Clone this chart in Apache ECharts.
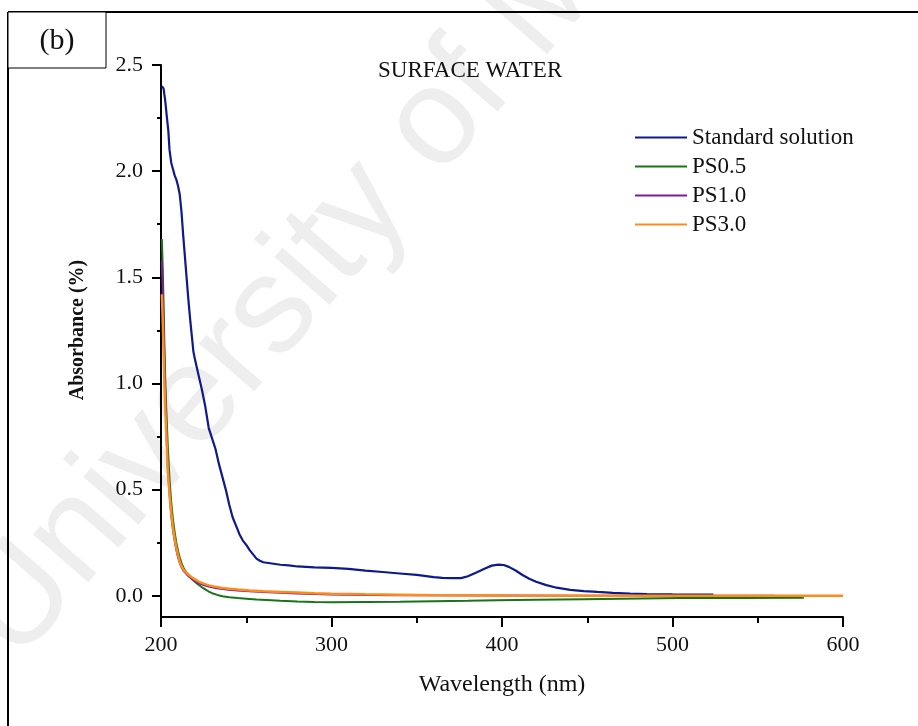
<!DOCTYPE html>
<html>
<head>
<meta charset="utf-8">
<script src="https://cdn.jsdelivr.net/npm/echarts@6.0.0/dist/echarts.min.js"></script>
<style>
  html, body { margin: 0; padding: 0; background: #fff; }
  #chart { width: 918px; height: 726px; }
</style>
</head>
<body>
<div id="chart"></div>
<script>
// UV-Vis absorbance spectra, surface water samples
const seriesNames = ['Standard solution', 'PS0.5', 'PS1.0', 'PS3.0'];
const seriesColors = ['#0c1a8c', '#187418', '#7d1b9c', '#ff8c1a'];

const stdWavelength = [200.5, 201.5, 202.5, 203.5, 204.3, 205, 206, 207, 208, 209, 210, 211, 212, 213, 214, 215, 216, 217, 218, 219, 220, 222, 224, 226, 228, 230, 232, 234, 236, 238, 240, 242, 244, 246, 248, 250, 252, 254, 256, 258, 260, 265, 270, 275, 280, 290, 300, 310, 320, 330, 340, 350, 360, 365, 370, 376, 380, 385, 390, 394, 398, 401, 404, 408, 412, 416, 420, 426, 432, 440, 448, 456, 465, 475, 485, 500, 524];
const stdAbsorbance = [2.40, 2.39, 2.33, 2.25, 2.19, 2.10, 2.04, 2.01, 1.98, 1.96, 1.93, 1.89, 1.81, 1.70, 1.60, 1.50, 1.40, 1.31, 1.23, 1.15, 1.11, 1.04, 0.97, 0.89, 0.79, 0.74, 0.69, 0.62, 0.56, 0.50, 0.43, 0.37, 0.33, 0.29, 0.26, 0.24, 0.215, 0.195, 0.175, 0.165, 0.158, 0.152, 0.146, 0.143, 0.138, 0.134, 0.131, 0.127, 0.118, 0.112, 0.105, 0.098, 0.088, 0.084, 0.083, 0.083, 0.092, 0.110, 0.128, 0.142, 0.147, 0.145, 0.136, 0.119, 0.098, 0.080, 0.066, 0.050, 0.038, 0.028, 0.022, 0.018, 0.014, 0.010, 0.008, 0.007, 0.006];

const ps05Wavelength = [200.5, 201, 201.5, 202, 202.5, 203, 203.5, 204, 205, 206, 207, 208, 209, 210, 211, 212, 213, 214, 216, 218, 220, 222, 224, 226, 228, 230, 233, 236, 240, 245, 250, 256, 262, 270, 280, 290, 300, 320, 340, 360, 380, 397, 420, 448, 470, 505, 540, 577];
const ps05Absorbance = [1.68, 1.55, 1.38, 1.18, 1.02, 0.90, 0.80, 0.70, 0.55, 0.44, 0.36, 0.30, 0.25, 0.21, 0.18, 0.155, 0.135, 0.12, 0.10, 0.08, 0.065, 0.052, 0.04, 0.03, 0.02, 0.012, 0.004, -0.002, -0.007, -0.011, -0.014, -0.018, -0.020, -0.024, -0.027, -0.029, -0.030, -0.029, -0.028, -0.026, -0.024, -0.021, -0.019, -0.016, -0.014, -0.011, -0.010, -0.009];

const ps10Wavelength = [200.5, 201, 201.5, 202, 202.5, 203, 203.5, 204, 205, 206, 207, 208, 209, 210, 211, 212, 213, 214, 216, 218, 220, 222, 225, 228, 232, 236, 240, 245, 252, 260, 270, 280, 290, 300, 320, 340, 360, 400, 450, 500, 560];
const ps10Absorbance = [1.58, 1.45, 1.28, 1.10, 0.95, 0.82, 0.70, 0.60, 0.48, 0.38, 0.31, 0.26, 0.215, 0.18, 0.155, 0.135, 0.12, 0.11, 0.093, 0.08, 0.07, 0.06, 0.05, 0.043, 0.037, 0.032, 0.028, 0.025, 0.021, 0.018, 0.014, 0.011, 0.008, 0.006, 0.004, 0.003, 0.002, 0.001, 0.0, 0.0, 0.0];

const ps30Wavelength = [200.5, 201, 201.5, 202, 202.5, 203, 203.5, 204, 205, 206, 207, 208, 209, 210, 211, 212, 213, 214, 216, 218, 220, 222, 225, 228, 232, 236, 240, 245, 252, 260, 270, 280, 290, 300, 320, 340, 360, 400, 450, 600];
const ps30Absorbance = [1.42, 1.30, 1.15, 1.00, 0.88, 0.78, 0.68, 0.59, 0.48, 0.39, 0.32, 0.27, 0.225, 0.19, 0.16, 0.14, 0.125, 0.115, 0.10, 0.087, 0.077, 0.067, 0.057, 0.049, 0.042, 0.037, 0.033, 0.029, 0.025, 0.021, 0.018, 0.015, 0.012, 0.010, 0.007, 0.005, 0.003, 0.001, 0.0, 0.0];

const xTicks = [200, 300, 400, 500, 600];
const yMajorTicks = [0, 0.5, 1.0, 1.5, 2.0, 2.5];
const yMinorTicks = [0.25, 0.75, 1.25, 1.75, 2.25];

const serif = '"Liberation Serif", "Times New Roman", serif';

function pairs(xs, ys) { return xs.map((x, i) => [x, ys[i]]); }
const spectra = [
  pairs(stdWavelength, stdAbsorbance),
  pairs(ps05Wavelength, ps05Absorbance),
  pairs(ps10Wavelength, ps10Absorbance),
  pairs(ps30Wavelength, ps30Absorbance)
];
const lineWidths = [2.2, 2, 2, 2.5];

const chart = echarts.init(document.getElementById('chart'), null, { renderer: 'canvas' });

const option = {
  backgroundColor: '#ffffff',
  animation: false,
  title: {
    text: 'SURFACE WATER',
    left: 373,
    top: 54,
    textStyle: { fontFamily: serif, fontSize: 23, fontWeight: 'normal', color: '#111' }
  },
  legend: {
    orient: 'vertical',
    left: 635,
    top: 126,
    padding: 0,
    itemWidth: 52,
    itemHeight: 2,
    itemGap: 6,
    icon: 'rect',
    data: seriesNames,
    textStyle: { fontFamily: serif, fontSize: 23, color: '#111', lineHeight: 23 }
  },
  grid: { left: 161, right: 75, top: 65, bottom: 109, containLabel: false },
  xAxis: {
    type: 'value',
    min: 200,
    max: 600,
    interval: 100,
    name: 'Wavelength (nm)',
    nameLocation: 'middle',
    nameGap: 56,
    nameTextStyle: { fontFamily: serif, fontSize: 24, color: '#111' },
    axisLine: { show: true, onZero: false, lineStyle: { color: '#000', width: 2 } },
    axisTick: { show: true, inside: false, length: 10, lineStyle: { color: '#000', width: 2 } },
    minorTick: { show: true, splitNumber: 2, length: 6, lineStyle: { color: '#000', width: 2 } },
    axisLabel: { margin: 17, fontFamily: serif, fontSize: 22, color: '#111', customValues: xTicks },
    splitLine: { show: false }
  },
  yAxis: [
    {
      type: 'value',
      min: -0.1,
      max: 2.5,
      name: 'Absorbance (%)',
      nameLocation: 'middle',
      nameGap: 73,
      nameTextStyle: { fontFamily: serif, fontSize: 20, fontWeight: 'bold', color: '#111', padding: [0, 0, 0, 22] },
      axisLine: { show: true, onZero: false, lineStyle: { color: '#000', width: 2 } },
      axisTick: { show: true, length: 9, customValues: yMajorTicks, lineStyle: { color: '#000', width: 2 } },
      axisLabel: {
        margin: 18,
        fontFamily: serif,
        fontSize: 22,
        color: '#111',
        customValues: yMajorTicks,
        formatter: v => v.toFixed(1)
      },
      splitLine: { show: false }
    },
    {
      type: 'value',
      min: -0.1,
      max: 2.5,
      position: 'left',
      axisLine: { show: false },
      axisTick: { show: true, length: 4, customValues: yMinorTicks, lineStyle: { color: '#000', width: 2 } },
      axisLabel: { show: false },
      splitLine: { show: false }
    }
  ],
  series: seriesNames.map((name, i) => ({
    name: name,
    type: 'line',
    yAxisIndex: 0,
    data: spectra[i],
    showSymbol: false,
    symbol: 'none',
    color: seriesColors[i],
    lineStyle: { color: seriesColors[i], width: lineWidths[i] },
    clip: true,
    z: 3 + i
  })),
  graphic: [
    // faint diagonal watermark behind the plot
    {
      type: 'text',
      x: 40,
      y: 685,
      rotation: 49 * Math.PI / 180,
      z: -10,
      silent: true,
      style: {
        text: 'University of Malaya',
        fontFamily: '"Liberation Sans", Arial, sans-serif',
        fontSize: 138,
        fill: '#eeeeee',
        align: 'left',
        verticalAlign: 'bottom'
      }
    },
    // outer panel frame
    { type: 'line', shape: { x1: 8, y1: 12, x2: 918, y2: 12 }, style: { stroke: '#000', lineWidth: 2 }, z: 10 },
    { type: 'line', shape: { x1: 8, y1: 12, x2: 8, y2: 726 }, style: { stroke: '#000', lineWidth: 2 }, z: 10 },
    // panel letter box
    { type: 'rect', shape: { x: 8, y: 12, width: 98, height: 56 }, style: { fill: '#fff', stroke: '#000', lineWidth: 1 }, z: 10 },
    {
      type: 'text', x: 57, y: 41, z: 11,
      style: { text: '(b)', fontFamily: serif, fontSize: 30, fill: '#111', align: 'center', verticalAlign: 'middle' }
    }
  ]
};

chart.setOption(option);
</script>
</body>
</html>
